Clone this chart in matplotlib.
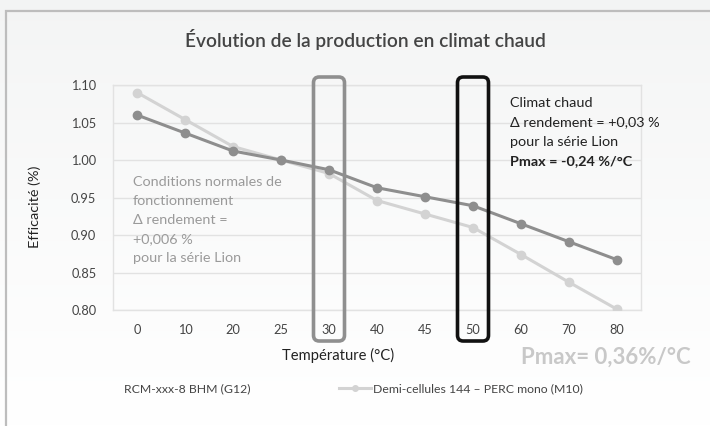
import numpy as np
import matplotlib
matplotlib.use("Agg")
import matplotlib.pyplot as plt
from matplotlib.patches import FancyBboxPatch
from matplotlib.lines import Line2D

plt.rcParams['font.family'] = ['Lato', 'DejaVu Sans']

categories = ["0", "10", "20", "25", "30", "40", "45", "50", "60", "70", "80"]
rcm_values = [1.060, 1.036, 1.012, 1.000, 0.987, 0.963, 0.951, 0.939, 0.915, 0.891, 0.867]
perc_values = [1.090, 1.054, 1.018, 1.000, 0.982, 0.946, 0.928, 0.910, 0.874, 0.837, 0.801]
series_names = ["RCM-xxx-8 BHM (G12)", "Demi-cellules 144 – PERC mono (M10)"]
yticks = [0.80, 0.85, 0.90, 0.95, 1.00, 1.05, 1.10]
highlight_normal = "30"
highlight_hot = "50"
normal_lines = ["Conditions normales de", "fonctionnement", "Δ rendement =", "+0,006 %",
                "pour la série Lion"]
hot_lines = ["Climat chaud", "Δ rendement = +0,03 %", "pour la série Lion"]
hot_bold = "Pmax = -0,24 %/°C"

W, H = 710, 426
fig = plt.figure(figsize=(W / 100, H / 100), dpi=100)

# background gradient
bg = fig.add_axes([0, 0, 1, 1], zorder=-10)
grad = np.linspace(0, 1, 256).reshape(-1, 1)
top = np.array([0.953, 0.957, 0.957])
bot = np.array([1.0, 1.0, 1.0])
img = top + (bot - top) * grad[:, :, None] ** 0.8
bg.imshow(img, aspect='auto', extent=[0, 1, 0, 1], origin='upper')
bg.set_xlim(0, 1); bg.set_ylim(0, 1)
bg.axis('off')
bg.plot([6 / W, 6 / W, 1], [0, 1 - 11 / H, 1 - 11 / H], color='#bdbdbd', lw=1.6,
        solid_capstyle='butt', solid_joinstyle='miter')

AX_L, AX_T, AX_R, AX_B = 113, 85, 641, 310
ax = fig.add_axes([AX_L / W, 1 - AX_B / H, (AX_R - AX_L) / W, (AX_B - AX_T) / H])
ax.set_facecolor('none')
x = np.arange(len(categories))

ax.plot(x, rcm_values, color='#8e8e8e', lw=2.2, marker='o', ms=6, zorder=4,
        solid_capstyle='round')
ax.plot(x, perc_values, color='#d3d3d3', lw=2.2, marker='o', ms=6, zorder=3,
        solid_capstyle='round')

ax.set_xlim(-0.5, len(categories) - 0.5)
ax.set_ylim(0.80, 1.10)
ax.set_yticks(yticks)
ax.set_yticklabels([f"{v:.2f}" for v in yticks])
ax.set_xticks(x)
ax.set_xticklabels(categories)
ax.tick_params(length=0, labelsize=9.2, colors='#444444', pad=12)
ax.tick_params(axis='x', pad=10)
ax.grid(axis='y', color='#e2e2e2', lw=1)
for s in ax.spines.values():
    s.set_color('#e2e2e2')
    s.set_linewidth(1)
ax.set_axisbelow(True)

ax.set_xlabel("Température (°C)", fontsize=10.6, color='#222222')
ax.xaxis.set_label_coords((338 - AX_L) / (AX_R - AX_L), -(355 - AX_B) / (AX_B - AX_T))
ax.xaxis.label.set_va('center')
ax.set_ylabel("Efficacité (%)", fontsize=10.4, color='#222222')
ax.yaxis.set_label_coords((35 - AX_L) / (AX_R - AX_L), (AX_B - 207) / (AX_B - AX_T))
ax.yaxis.label.set_va('center')

# highlight boxes
px_per_x = (AX_R - AX_L) / len(categories)
px_per_y = (AX_B - AX_T) / 0.30
bw = 31 / px_per_x
ytop = 1.10 + 8 / px_per_y
ybot = 0.80 - 31 / px_per_y
asp = px_per_x / px_per_y
for cat, col in [(highlight_normal, '#8f8f8f'), (highlight_hot, '#111111')]:
    ci = categories.index(cat)
    p = FancyBboxPatch((ci - bw / 2, ybot), bw, ytop - ybot,
                       boxstyle="round,pad=0,rounding_size=0.12",
                       mutation_aspect=asp, fill=False, ec=col, lw=2.6,
                       clip_on=False, zorder=6)
    ax.add_patch(p)


def ydata(py):
    return 1.10 - (py - AX_T) / px_per_y


def xdata(px):
    return -0.5 + (px - AX_L) / px_per_x


# annotations
for i, line in enumerate(normal_lines):
    ax.text(xdata(133), ydata(182 + 19 * i), line, fontsize=10.4, color='#9a9a9a',
            va='center', ha='left', zorder=5)
for i, line in enumerate(hot_lines):
    ax.text(xdata(510), ydata(103 + 19.3 * i), line, fontsize=10.4, color='#222222',
            va='center', ha='left', zorder=5)
ax.text(xdata(510), ydata(103 + 19.3 * 3), hot_bold, fontsize=10.4, color='#222222',
        va='center', ha='left', fontweight='bold', zorder=5)

fig.text(365 / W, 1 - 39 / H, "Évolution de la production en climat chaud",
         fontsize=13.8, color='#444444', ha='center', va='center', fontweight='semibold')

fig.text(691 / W, 1 - 357 / H, "Pmax= 0,36%/°C", fontsize=16, color='#c8c8c8',
         ha='right', va='center', fontweight='bold')

# legend
h1 = Line2D([], [], color='none', marker=None)
h2 = Line2D([], [], color='#d3d3d3', lw=2.2, marker='o', ms=4)
fig.legend([h1, h2], series_names, loc='center left',
           bbox_to_anchor=(90 / W, 1 - 389 / H), ncol=2, frameon=False,
           fontsize=8.8, labelcolor='#444444', handlelength=2.6, handletextpad=0.2,
           columnspacing=7.2, borderaxespad=0, borderpad=0)

fig.savefig("out.png", dpi=100)
